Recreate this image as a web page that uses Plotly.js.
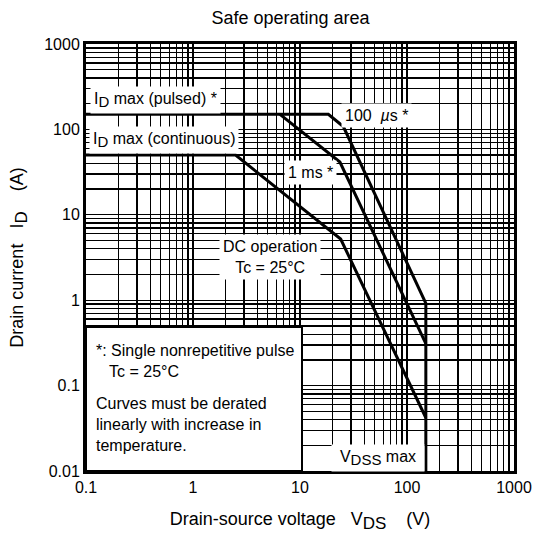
<!DOCTYPE html>
<html>
<head>
<meta charset="utf-8">
<script src="https://cdn.plot.ly/plotly-3.0.1.min.js"></script>
<style>html,body{margin:0;padding:0;background:#fff}#chart{width:533px;height:533px}</style>
</head>
<body>
<div id="chart"></div>
<script>
// ---- data (V, A) ----
const us100_vds = [0.1, 18.4, 25.4, 150, 150];
const us100_id  = [150, 150, 108, 0.92, 0.01];
const ms1_vds   = [6.5, 23.6, 150];
const ms1_id    = [150, 41.5, 0.31];
const dc_vds    = [0.1, 2.5, 24, 150];
const dc_id     = [50, 50, 5.2, 0.042];

const xDecades = [0.1, 1, 10, 100, 1000];
const xDecadeLabels = ["0.1", "1", "10", "100", "1000"];
const yDecades = [0.01, 0.1, 1, 10, 100, 1000];
const yDecadeLabels = ["0.01", "0.1", "1", "10", "100", "1000"];
const minorDigits = [1, 2, 3, 4, 5, 6, 7, 8, 9];

function logTicks(decades, labels) {
  const vals = [], txt = [];
  decades.forEach((d, i) => {
    if (i === decades.length - 1) { vals.push(d); txt.push(labels[i]); return; }
    minorDigits.forEach(m => {
      vals.push(d * m);
      txt.push(m === 1 ? labels[i] : "");
    });
  });
  return {vals, txt};
}
const xt = logTicks(xDecades, xDecadeLabels);
const yt = logTicks(yDecades, yDecadeLabels);

const FONT = "Arial, 'Liberation Sans', sans-serif";
const lineStyle = {color: "#000", width: 3};

const traces = [
  {x: us100_vds, y: us100_id, mode: "lines", line: lineStyle, hoverinfo: "skip"},
  {x: ms1_vds, y: ms1_id, mode: "lines", line: lineStyle, hoverinfo: "skip"},
  {x: dc_vds, y: dc_id, mode: "lines", line: lineStyle, hoverinfo: "skip"}
];

const L = 86, R = 514, T = 44, B = 471;
const px = v => (v - L) / (R - L);
const py = v => (B - v) / (B - T);
const SUB = (s, size) => "<sub><span style='font-size:" + size + "px'>" + s + "</span></sub>";

function lab(text, x, y, xanchor, opts) {
  return Object.assign({
    text, xref: "paper", yref: "paper", x: px(x), y: py(y),
    xanchor: xanchor || "center", yanchor: "middle", showarrow: false,
    bgcolor: "#fff", borderpad: 3, font: {family: FONT, size: 16, color: "#000"}
  }, opts || {});
}

const layout = {
  width: 533, height: 533,
  margin: {l: L, r: 533 - R, t: T, b: 533 - B},
  paper_bgcolor: "#fff", plot_bgcolor: "#fff",
  showlegend: false,
  font: {family: FONT, color: "#000"},
  title: {text: "Safe operating area", x: 0.545, xanchor: "center", y: 0.966, yanchor: "middle",
          font: {family: FONT, size: 18, color: "#000"}},
  xaxis: {
    type: "log", range: [-1, 3], tickvals: xt.vals, ticktext: xt.txt, ticks: "",
    showgrid: true, gridcolor: "#000", gridwidth: 1.3, zeroline: false,
    showline: true, mirror: true, linecolor: "#000", linewidth: 3,
    tickfont: {family: FONT, size: 16, color: "#000"},
    title: {text: "Drain-source voltage   V" + SUB("DS", 17) + "    (V)", standoff: 18,
            font: {family: FONT, size: 18, color: "#000"}}
  },
  yaxis: {
    type: "log", range: [-2, 3], tickvals: yt.vals, ticktext: yt.txt, ticks: "",
    showgrid: true, gridcolor: "#000", gridwidth: 1.3, zeroline: false,
    showline: true, mirror: true, linecolor: "#000", linewidth: 3,
    tickfont: {family: FONT, size: 16, color: "#000"},
    title: {text: "Drain current   I" + SUB("D", 17) + "    (A)", standoff: 16,
            font: {family: FONT, size: 18, color: "#000"}}
  },
  shapes: [
    {type: "rect", xref: "paper", yref: "paper", x0: 0, x1: px(302), y0: 0, y1: py(327),
     fillcolor: "#fff", line: {color: "#000", width: 2}, layer: "above"}
  ],
  annotations: [
    lab("I" + SUB("D", 15) + " max (pulsed) *", 90, 100, "left"),
    lab("I" + SUB("D", 15) + " max (continuous)", 89, 139.5, "left"),
    lab("100  <i>µ</i>s *", 376, 116, "center"),
    lab("1 ms *", 310, 172, "center"),
    lab("DC operation<br>Tc = 25°C", 270, 257, "center"),
    lab("V" + SUB("DSS", 15) + " max", 378, 458, "center", {width: 86}),
    lab("*: Single nonrepetitive pulse<br>   Tc = 25°C", 92, 361, "left", {align: "left", bgcolor: "rgba(0,0,0,0)"}),
    lab("Curves must be derated<br>linearly with increase in<br>temperature.", 92, 424, "left", {align: "left", bgcolor: "rgba(0,0,0,0)"})
  ]
};

Plotly.newPlot("chart", traces, layout, {staticPlot: true, displayModeBar: false});
</script>
</body>
</html>
